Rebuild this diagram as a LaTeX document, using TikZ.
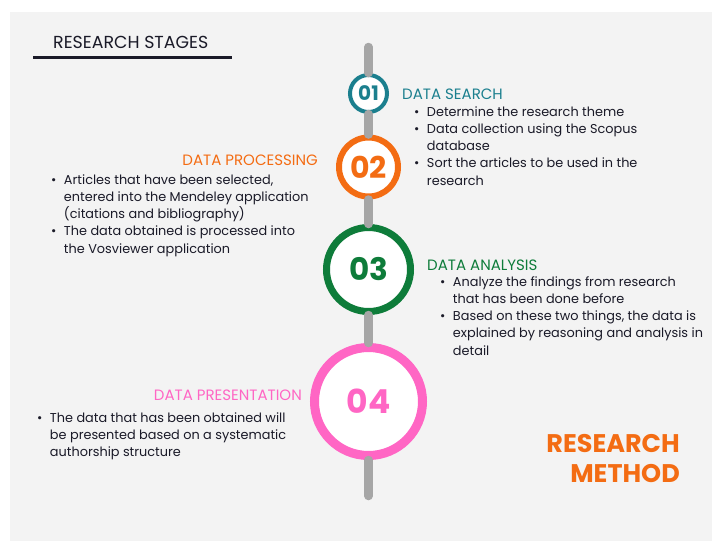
\documentclass[tikz,border=0pt]{standalone}
\usepackage{fontspec}
\setmainfont{Poppins}
\definecolor{tealc}{HTML}{1B7F8E}
\definecolor{orng}{HTML}{F36C13}
\definecolor{grn}{HTML}{0E7C3A}
\definecolor{pnk}{HTML}{FF66C4}
\definecolor{ink}{HTML}{1A1A28}
\definecolor{panel}{HTML}{F3F3F3}
\definecolor{railc}{HTML}{A6A6A6}
\begin{document}
\begin{tikzpicture}[x=1pt,y=-1pt,
  stagecircle/.style={circle,draw,fill=white,inner sep=0pt},
  heading/.style={inner sep=0pt,font=\fontsize{15}{17}\selectfont},
  itemlist/.style={inner sep=0pt,text=ink,font=\fontsize{12.85}{17.3}\selectfont},
  railline/.style={draw=railc,line width=8.5pt,line cap=round},
  num/.style={font=\bfseries}
]
\useasboundingbox (0,0) rectangle (712,541);
\fill[white] (0,0) rectangle (712,541);
\fill[panel] (10,12) rectangle (712,541);

% title
\node[inner sep=0pt,anchor=base west,text=ink,font=\fontsize{17.4}{19}\selectfont] (title) at (53,48) {RESEARCH STAGES};
\coordinate (ulA) at (33,57);
\coordinate (ulB) at (232,57);
\draw[ink,line width=3pt] (ulA) -- (ulB);

% rail
\coordinate (railtop) at (368.5,47);
\coordinate (railbot) at (368.5,496);
\node[stagecircle,draw=tealc,line width=4pt,minimum size=37pt] (c1) at (368.5,93.5) {};
\node[stagecircle,draw=orng,line width=6pt,minimum size=59pt] (c2) at (368.5,167) {};
\node[stagecircle,draw=grn,line width=7pt,minimum size=84pt] (c3) at (368.5,269.5) {};
\node[stagecircle,draw=pnk,line width=9pt,minimum size=108pt] (c4) at (368.5,401.5) {};
\draw[railline] (railtop) -- (c1);
\draw[railline] (c1) -- (c2);
\draw[railline] (c2) -- (c3);
\draw[railline] (c3) -- (c4);
\draw[railline] (c4) -- (railbot);

% numbers
\node[num,text=tealc,font=\bfseries\fontsize{20}{22}\selectfont] (n1) at (c1) {01};
\node[num,text=orng,font=\bfseries\fontsize{30}{32}\selectfont] (n2) at (c2) {02};
\node[num,text=grn,font=\bfseries\fontsize{31}{33}\selectfont] (n3) at (c3) {03};
\node[num,text=pnk,font=\bfseries\fontsize{33}{35}\selectfont] (n4) at (c4) {04};

% DATA SEARCH
\node[heading,text=tealc,anchor=base west] (h1) at (402,99) {DATA SEARCH};
\node[itemlist,anchor=base west] (l1) at (414,116) {\begin{tabular}[t]{@{}l@{\hspace{7.5pt}}l@{}}
\textbullet & Determine the research theme\\
\textbullet & Data collection using the Scopus\\
 & database\\
\textbullet & Sort the articles to be used in the\\
 & research
\end{tabular}};

% DATA PROCESSING
\node[heading,text=orng,anchor=base east] (h2) at (318,165) {DATA PROCESSING};
\node[itemlist,anchor=base west] (l2) at (51,184) {\begin{tabular}[t]{@{}l@{\hspace{7.5pt}}l@{}}
\textbullet & Articles that have been selected,\\
 & entered into the Mendeley application\\
 & (citations and bibliography)\\
\textbullet & The data obtained is processed into\\
 & the Vosviewer application
\end{tabular}};

% DATA ANALYSIS
\node[heading,text=grn,anchor=base west] (h3) at (427,270) {DATA ANALYSIS};
\node[itemlist,anchor=base west] (l3) at (440,286) {\begin{tabular}[t]{@{}l@{\hspace{7.5pt}}l@{}}
\textbullet & Analyze the findings from research\\
 & that has been done before\\
\textbullet & Based on these two things, the data is\\
 & explained by reasoning and analysis in\\
 & detail
\end{tabular}};

% DATA PRESENTATION
\node[heading,text=pnk,anchor=base east] (h4) at (302,400) {DATA PRESENTATION};
\node[itemlist,anchor=base west] (l4) at (37,422) {\begin{tabular}[t]{@{}l@{\hspace{7.5pt}}l@{}}
\textbullet & The data that has been obtained will\\
 & be presented based on a systematic\\
 & authorship structure
\end{tabular}};

% RESEARCH METHOD
\node[inner sep=0pt,anchor=base east,text=orng,font=\bfseries\fontsize{25.5}{27}\selectfont] (rm1) at (680,452) {RESEARCH};
\node[inner sep=0pt,anchor=base east,text=orng,font=\bfseries\fontsize{25.5}{27}\selectfont] (rm2) at (680,482) {METHOD};
\end{tikzpicture}
\end{document}
